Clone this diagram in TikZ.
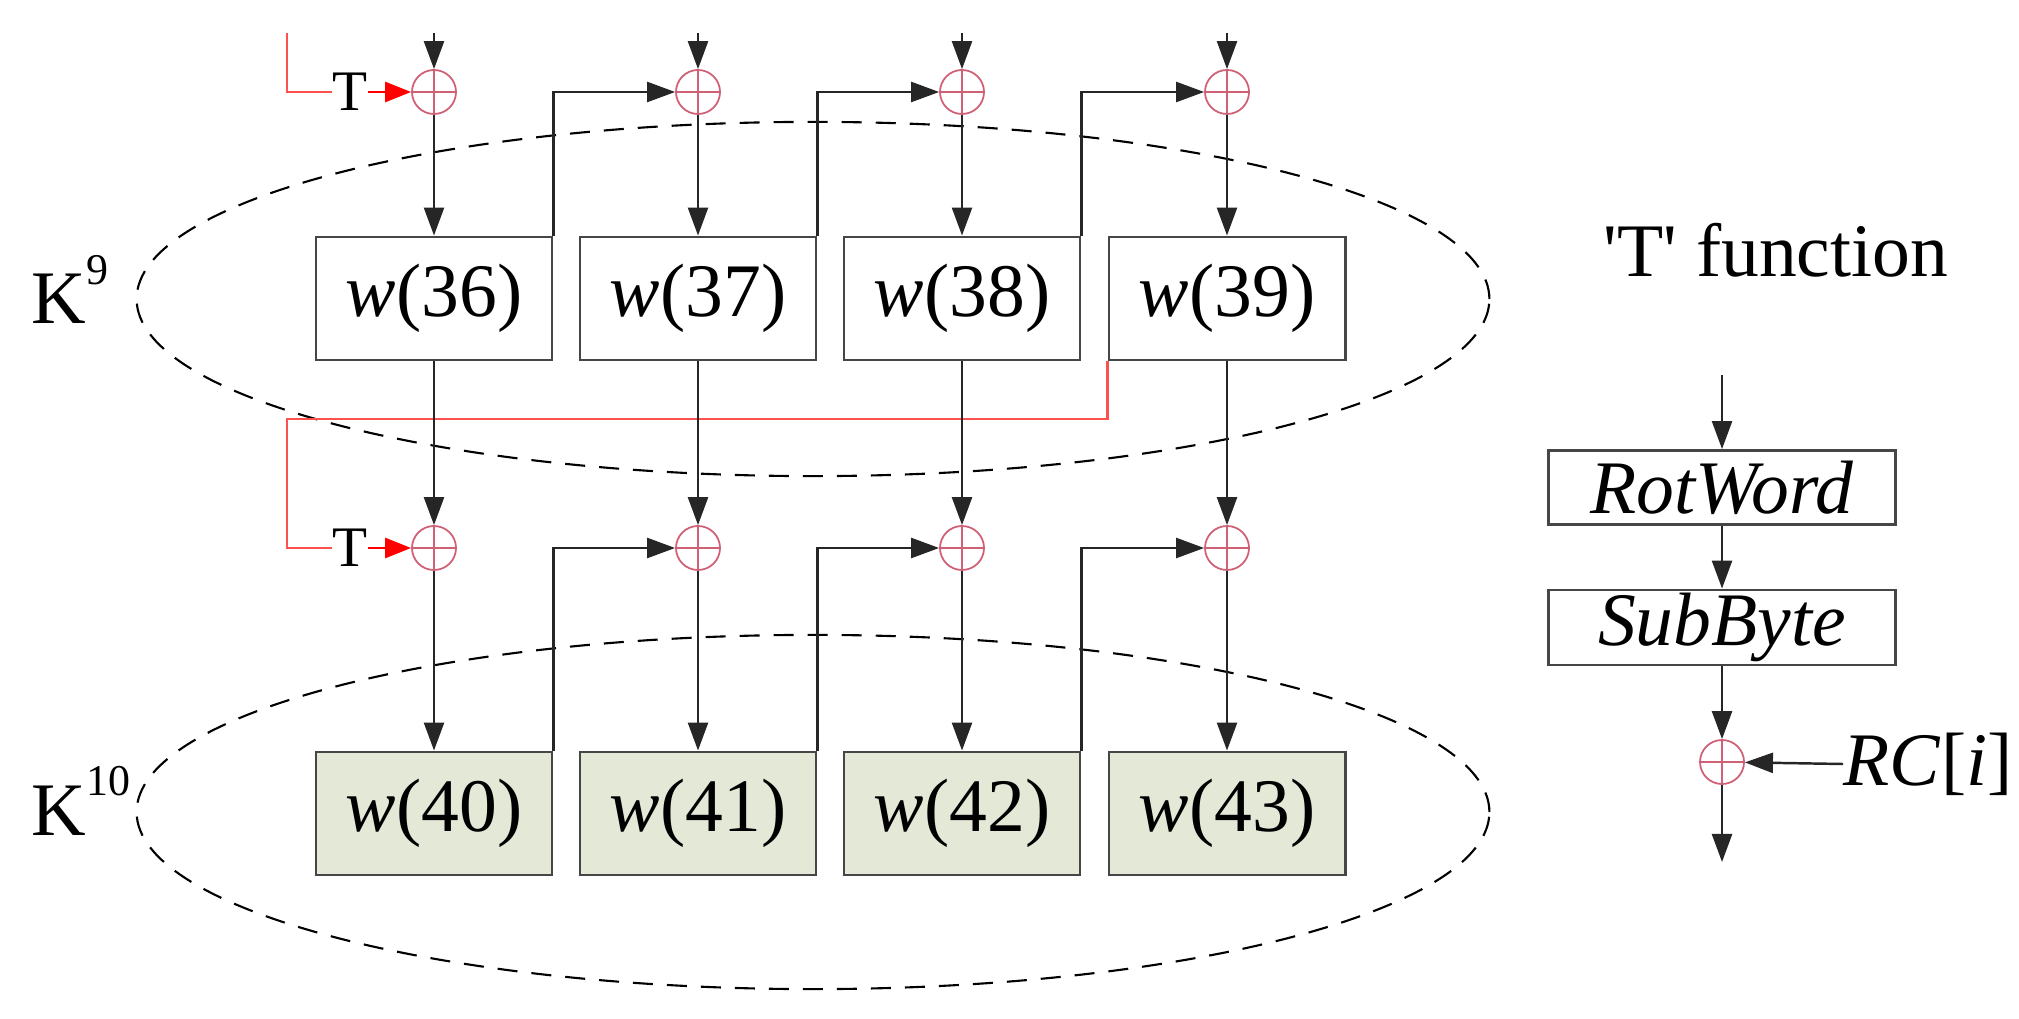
\documentclass[tikz,border=0pt]{standalone}
\usepackage{fontspec}
\setmainfont{Liberation Serif}
\usetikzlibrary{arrows.meta,calc}
\definecolor{xorc}{RGB}{208,96,118}
\definecolor{redl}{RGB}{255,80,80}
\definecolor{redtip}{RGB}{255,0,0}
\definecolor{boxfill}{RGB}{227,232,215}
\definecolor{boxline}{RGB}{70,70,70}
\newcommand{\supk}[1]{\raisebox{0.39cm}{\fontsize{12.5}{14}\selectfont #1}}
\tikzset{
  mainfont/.style={font=\fontsize{21.5}{26}\selectfont},
  wbox/.style={draw=boxline, line width=0.8pt, minimum width=2.36cm, minimum height=1.23cm, inner sep=0pt, mainfont},
  gbox/.style={wbox, fill=boxfill},
  fbox/.style={draw=boxline, line width=0.8pt, minimum width=3.47cm, minimum height=0.74cm, inner sep=0pt, mainfont},
  xorn/.style={circle, draw=xorc, line width=0.5pt, minimum size=0.44cm, inner sep=0pt,
     path picture={\draw[xorc, line width=0.5pt] (path picture bounding box.north) -- (path picture bounding box.south)
        (path picture bounding box.west) -- (path picture bounding box.east);}},
  conn/.style={-{Triangle[length=0.28cm,width=0.2cm]}, line width=0.7pt, draw=black!85},
  redline/.style={draw=redl, line width=0.8pt},
  redconn/.style={-{Triangle[length=0.26cm,width=0.2cm]}, draw=redl, line width=0.8pt, color=redtip},
  tlab/.style={inner sep=0pt, font=\fontsize{16.3}{18}\selectfont},
  ellc/.style={draw=black, line width=0.6pt, dash pattern=on 0.2cm off 0.14cm},
  klab/.style={inner sep=0pt, anchor=base west, mainfont}
}
\begin{document}
\begin{tikzpicture}[x=0.01cm, y=-0.01cm]
\path[use as bounding box] (0,0) rectangle (2019,1019);

% dashed ellipses
\draw[ellc] (813,299) ellipse [x radius=6.76cm, y radius=1.77cm];
\draw[ellc] (813,812) ellipse [x radius=6.76cm, y radius=1.77cm];

% labels K
\node[klab] (k9) at (31,324) {K\supk{9}};
\node[klab] (k10) at (31,835) {K\supk{10}};

% upper XORs and inputs
\coordinate (ta1) at (434,33);
\coordinate (ta2) at (698,33);
\coordinate (ta3) at (962,33);
\coordinate (ta4) at (1227,33);
\node[xorn] (xa1) at (434,92) {};
\node[xorn] (xa2) at (698,92) {};
\node[xorn] (xa3) at (962,92) {};
\node[xorn] (xa4) at (1227,92) {};

% upper boxes
\node[wbox] (w36) at (434,298.5) {\textit{w}(36)};
\node[wbox] (w37) at (698,298.5) {\textit{w}(37)};
\node[wbox] (w38) at (962,298.5) {\textit{w}(38)};
\node[wbox] (w39) at (1227,298.5) {\textit{w}(39)};

% lower XORs
\node[xorn] (xb1) at (434,548) {};
\node[xorn] (xb2) at (698,548) {};
\node[xorn] (xb3) at (962,548) {};
\node[xorn] (xb4) at (1227,548) {};

% lower boxes
\node[gbox] (w40) at (434,813.5) {\textit{w}(40)};
\node[gbox] (w41) at (698,813.5) {\textit{w}(41)};
\node[gbox] (w42) at (962,813.5) {\textit{w}(42)};
\node[gbox] (w43) at (1227,813.5) {\textit{w}(43)};

% red T paths
\coordinate (ra) at (287,33);
\node[tlab] (T1) at (350,92) {T};
\draw[redline] (ra) |- (T1.west);
\draw[redconn] (T1.east) -- (xa1);

\coordinate (rb) at (287,419);
\node[tlab] (T2) at (350,548) {T};
\draw[redline] (w39.south west) |- (rb) |- (T2.west);
\draw[redconn] (T2.east) -- (xb1);

% black connectors, upper
\draw[conn] (ta1) -- (xa1);
\draw[conn] (ta2) -- (xa2);
\draw[conn] (ta3) -- (xa3);
\draw[conn] (ta4) -- (xa4);
\draw[conn] (xa1) -- (w36);
\draw[conn] (xa2) -- (w37);
\draw[conn] (xa3) -- (w38);
\draw[conn] (xa4) -- (w39);
\draw[conn] (w36.north east) |- (xa2);
\draw[conn] (w37.north east) |- (xa3);
\draw[conn] (w38.north east) |- (xa4);

% middle
\draw[conn] (w36) -- (xb1);
\draw[conn] (w37) -- (xb2);
\draw[conn] (w38) -- (xb3);
\draw[conn] (w39) -- (xb4);

% lower
\draw[conn] (xb1) -- (w40);
\draw[conn] (xb2) -- (w41);
\draw[conn] (xb3) -- (w42);
\draw[conn] (xb4) -- (w43);
\draw[conn] (w40.north east) |- (xb2);
\draw[conn] (w41.north east) |- (xb3);
\draw[conn] (w42.north east) |- (xb4);

% T function
\node[mainfont, inner sep=0pt] (tf) at (1776,250) {\textquotesingle T\textquotesingle{} function};
\coordinate (tin) at (1722,375);
\node[fbox] (rot) at (1722,487.5) {\textit{RotWord}};
\node[fbox, minimum height=0.75cm] (sub) at (1722,627.5) {\textit{SubByte}};
\node[xorn] (xt) at (1722,762) {};
\coordinate (tout) at (1722,862);
\node[mainfont, inner sep=0pt, anchor=west] (rc) at (1843,764) {\textit{RC}[\textit{i}]};
\draw[conn] (tin) -- (rot);
\draw[conn] (rot) -- (sub);
\draw[conn] (sub) -- (xt);
\draw[conn] (xt) -- (tout);
\draw[conn] (rc.west) -- (xt);
\end{tikzpicture}
\end{document}
